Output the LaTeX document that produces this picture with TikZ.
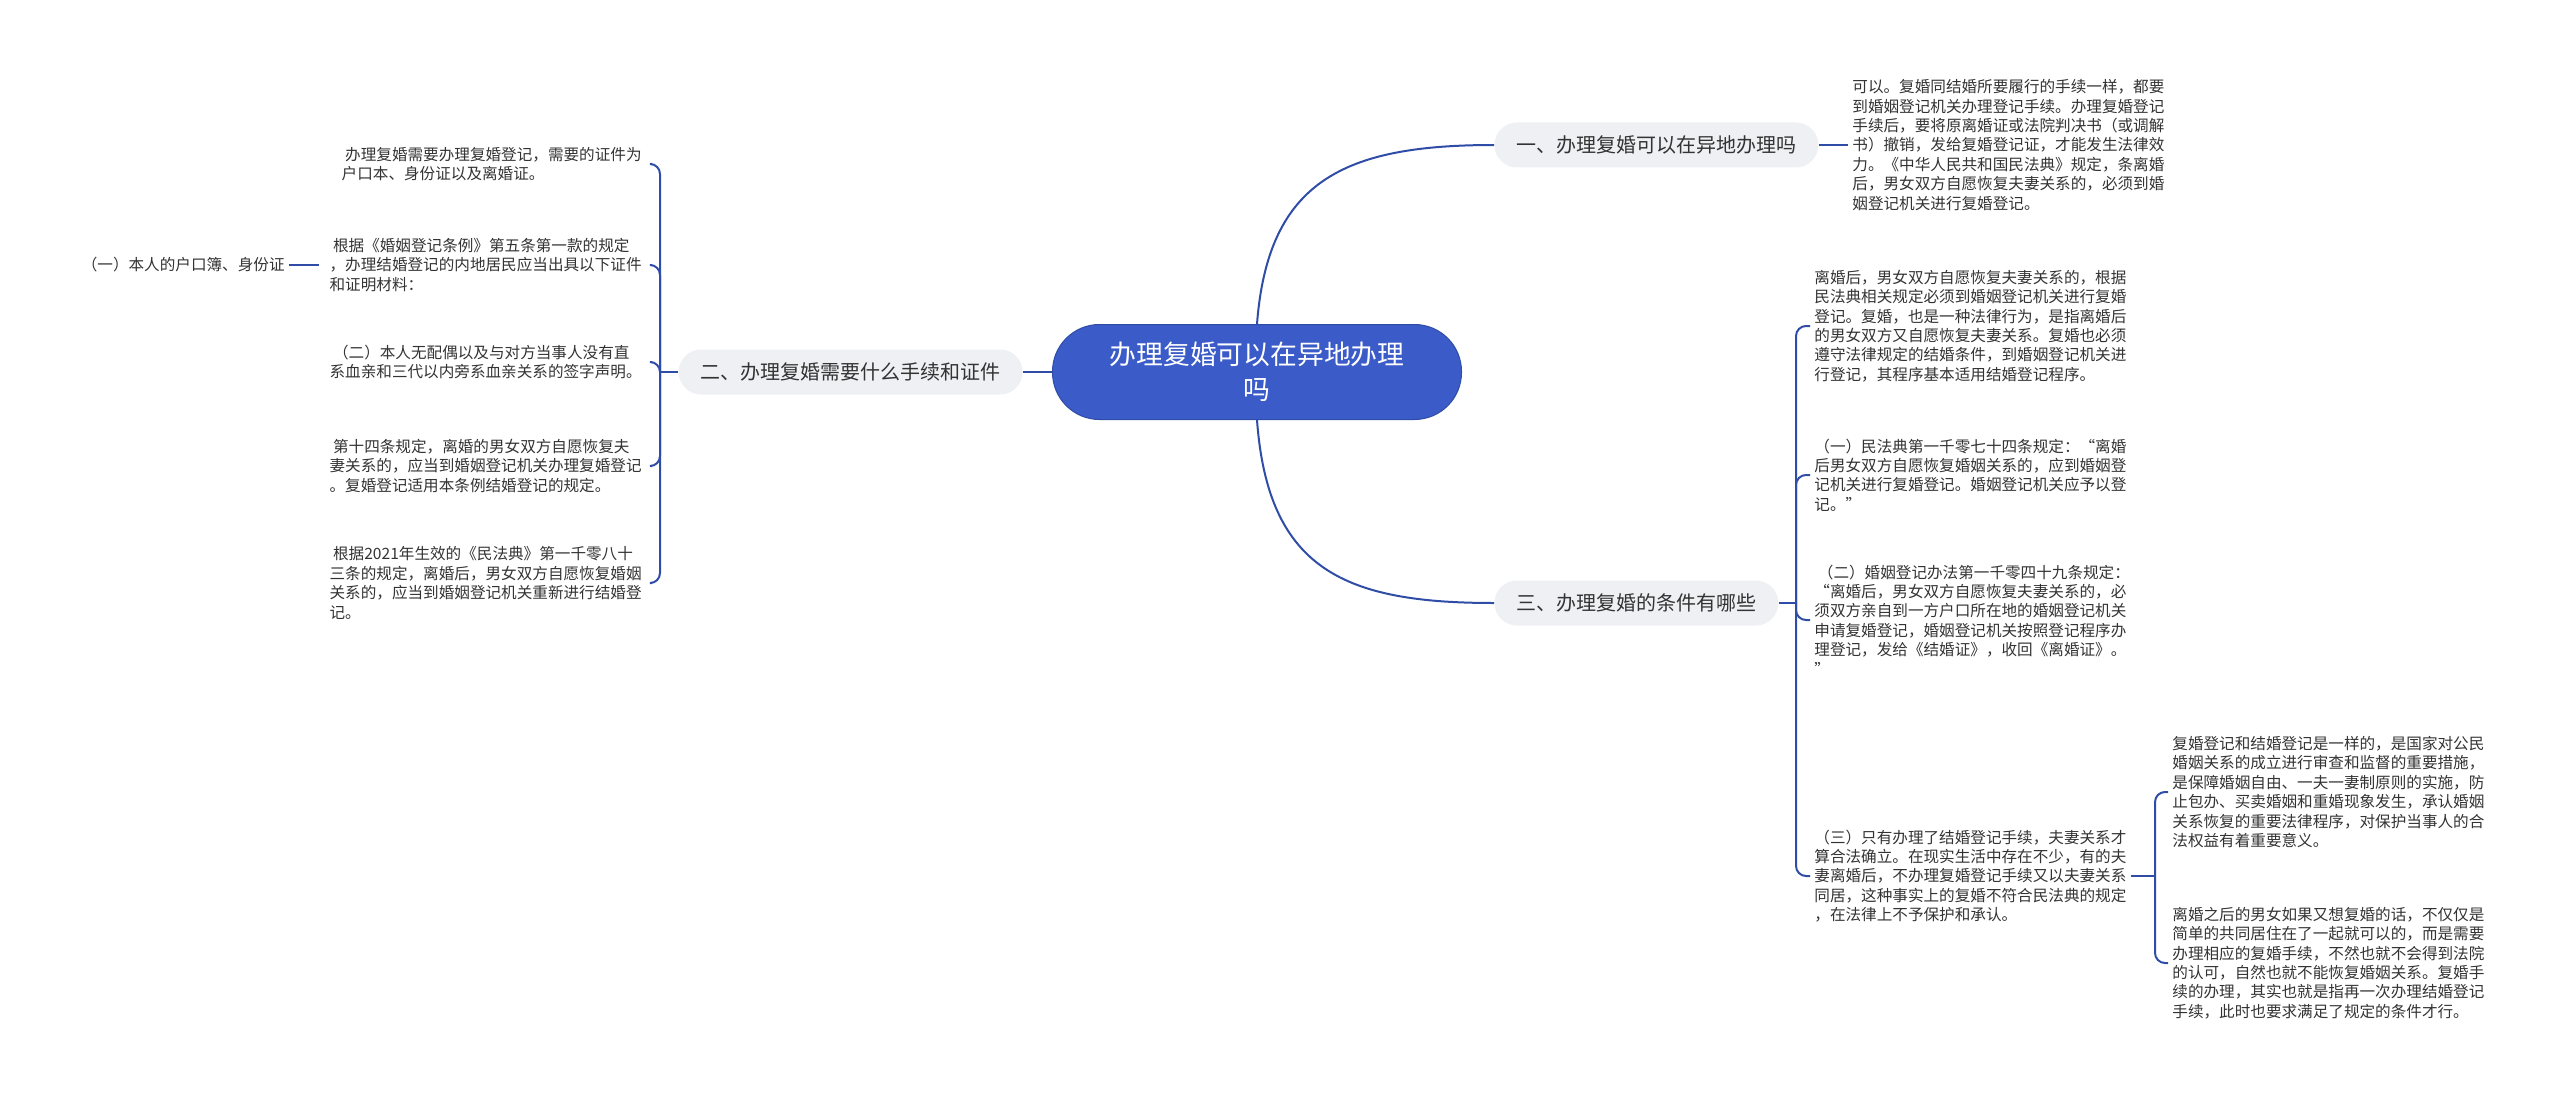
\documentclass[tikz,border=0pt]{standalone}
\usepackage{fontspec}
\setmainfont{Noto Sans CJK SC}
\usetikzlibrary{positioning}
\definecolor{rootblue}{HTML}{3A5BC8}
\definecolor{linkblue}{HTML}{2F4DA6}
\definecolor{pillgray}{HTML}{EEF0F4}
\definecolor{inkgray}{HTML}{333333}

\begin{document}
\begin{tikzpicture}[x=0.5pt,y=-0.5pt,
  link/.style={linkblue,line width=1pt},
  hook/.style={link,rounded corners=5pt},
  rootnode/.style={fill=rootblue,draw=linkblue,line width=0.5pt,text=white,rounded corners=23.5pt,
    minimum width=204.5pt,minimum height=47.5pt,align=center,font=\fontsize{13.4}{17.5}\selectfont},
  topic/.style={fill=pillgray,text=inkgray,rounded corners=11.25pt,minimum height=22.5pt,
    inner xsep=11pt,font=\fontsize{10}{12}\selectfont},
  leaf/.style={text=inkgray,align=left,inner sep=2pt,font=\fontsize{7.8}{9.7}\selectfont},
  leftleaf/.style={leaf,inner xsep=5pt,anchor=east}]
\useasboundingbox (0,0) rectangle (2560,1097);

% centre and the three topics
\node[rootnode] (root) at (1257,372) {办理复婚可以在异地办理\\吗};
\node[topic,anchor=west] (b1) at (1494,145) {一、办理复婚可以在异地办理吗};
\node[topic,anchor=east] (b2) at (1023,372) {二、办理复婚需要什么手续和证件};
\node[topic,anchor=west] (b3) at (1494,603) {三、办理复婚的条件有哪些};

\draw[link] (root.north) .. controls (1268,180) and (1345,145) .. (b1.west);
\draw[link] (root.south) .. controls (1268,570) and (1345,603) .. (b3.west);
\draw[link] (root.west) -- (b2.east);

% topic one
\node[leaf,anchor=west] (R1) at (1848,145) {可以。复婚同结婚所要履行的手续一样，都要\\到婚姻登记机关办理登记手续。办理复婚登记\\手续后，要将原离婚证或法院判决书（或调解\\书）撤销，发给复婚登记证，才能发生法律效\\力。《中华人民共和国民法典》规定，条离婚\\后，男女双方自愿恢复夫妻关系的，必须到婚\\姻登记机关进行复婚登记。};
\draw[link] (b1.east) -- (R1.west);

% topic two
\node[leftleaf] (L1) at (652,164) {\ 办理复婚需要办理复婚登记，需要的证件为\\户口本、身份证以及离婚证。};
\node[leftleaf] (L2) at (652,265) {\ 根据《婚姻登记条例》第五条第一款的规定\\，办理结婚登记的内地居民应当出具以下证件\\和证明材料：};
\node[leftleaf] (L3) at (652,362) {\ （二）本人无配偶以及与对方当事人没有直\\系血亲和三代以内旁系血亲关系的签字声明。};
\node[leftleaf] (L4) at (652,466) {\ 第十四条规定，离婚的男女双方自愿恢复夫\\妻关系的，应当到婚姻登记机关办理复婚登记\\。复婚登记适用本条例结婚登记的规定。};
\node[leftleaf] (L5) at (652,583) {\ 根据2021年生效的《民法典》第一千零八十\\三条的规定，离婚后，男女双方自愿恢复婚姻\\关系的，应当到婚姻登记机关重新进行结婚登\\记。};
\node[leaf,anchor=east] (L2a) at (289,265) {（一）本人的户口簿、身份证};

\coordinate (jL) at (660,372);
\draw[link] (b2.west) -- (jL);
\foreach \n in {L1,L2,L3,L4,L5}
  \draw[hook] (jL) |- (\n.east);
\draw[link] (L2.west) -- (L2a.east);

% topic three
\node[leaf,anchor=west] (Ra) at (1810,326) {离婚后，男女双方自愿恢复夫妻关系的，根据\\民法典相关规定必须到婚姻登记机关进行复婚\\登记。复婚，也是一种法律行为，是指离婚后\\的男女双方又自愿恢复夫妻关系。复婚也必须\\遵守法律规定的结婚条件，到婚姻登记机关进\\行登记，其程序基本适用结婚登记程序。};
\node[leaf,anchor=west] (Rb) at (1810,475) {（一）民法典第一千零七十四条规定：“离婚\\后男女双方自愿恢复婚姻关系的，应到婚姻登\\记机关进行复婚登记。婚姻登记机关应予以登\\记。”};
\node[leaf,anchor=west] (Rc) at (1810,620) {\ （二）婚姻登记办法第一千零四十九条规定：\\“离婚后，男女双方自愿恢复夫妻关系的，必\\须双方亲自到一方户口所在地的婚姻登记机关\\申请复婚登记，婚姻登记机关按照登记程序办\\理登记，发给《结婚证》，收回《离婚证》。\\”};
\node[leaf,anchor=west] (Rd) at (1810,876) {（三）只有办理了结婚登记手续，夫妻关系才\\算合法确立。在现实生活中存在不少，有的夫\\妻离婚后，不办理复婚登记手续又以夫妻关系\\同居，这种事实上的复婚不符合民法典的规定\\，在法律上不予保护和承认。};

\coordinate (jR) at (1796,603);
\draw[link] (b3.east) -- (jR);
\foreach \n in {Ra,Rb,Rc,Rd}
  \draw[hook] (jR) |- (\n.west);

\node[leaf,anchor=west] (Rd1) at (2168,792) {复婚登记和结婚登记是一样的，是国家对公民\\婚姻关系的成立进行审查和监督的重要措施，\\是保障婚姻自由、一夫一妻制原则的实施，防\\止包办、买卖婚姻和重婚现象发生，承认婚姻\\关系恢复的重要法律程序，对保护当事人的合\\法权益有着重要意义。};
\node[leaf,anchor=west] (Rd2) at (2168,963) {离婚之后的男女如果又想复婚的话，不仅仅是\\简单的共同居住在了一起就可以的，而是需要\\办理相应的复婚手续，不然也就不会得到法院\\的认可，自然也就不能恢复婚姻关系。复婚手\\续的办理，其实也就是指再一次办理结婚登记\\手续，此时也要求满足了规定的条件才行。};

\coordinate (jD) at (2155,876);
\draw[link] (Rd.east) -- (jD);
\foreach \n in {Rd1,Rd2}
  \draw[hook] (jD) |- (\n.west);
\end{tikzpicture}
\end{document}
